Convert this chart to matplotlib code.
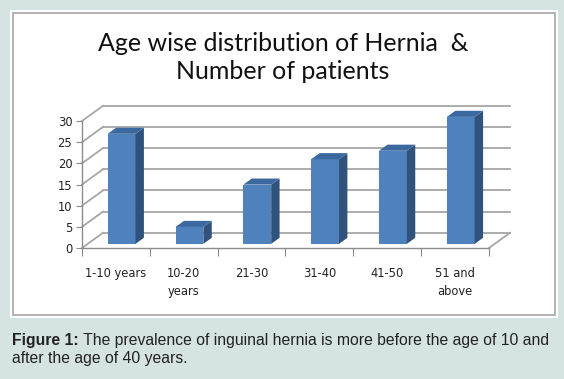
import matplotlib
matplotlib.use("Agg")
import matplotlib.pyplot as plt
from matplotlib.patches import Rectangle, Polygon
from matplotlib.lines import Line2D

# ---- data ----
categories = ["1-10 years", "10-20\nyears", "21-30", "31-40", "41-50", "51 and\nabove"]
patients = [26, 4, 14, 20, 22, 30]
y_ticks = [0, 5, 10, 15, 20, 25, 30]
title = "Age wise distribution of Hernia  &\nNumber of patients"
caption_bold = "Figure 1:"
caption_rest = " The prevalence of inguinal hernia is more before the age of 10 and\nafter the age of 40 years."

W, H = 564, 379
fig = plt.figure(figsize=(W / 100, H / 100), dpi=100)
fig.patch.set_facecolor("#d5e3e3")

def fx(px):
    return px / W

def fy(py):
    return 1 - py / H

# panel
bg = fig.add_axes([0, 0, 1, 1])
bg.set_xlim(0, W)
bg.set_ylim(H, 0)
bg.axis("off")
bg.add_patch(Rectangle((10, 10), 548, 308, facecolor="white", edgecolor="none"))
bg.add_patch(Rectangle((13, 13), 542, 302, facecolor="white", edgecolor="#a6a6a6", lw=1.2))

fig.text(fx(283), fy(57.5), title, ha="center", va="center", fontsize=18,
         family="Lato", color="#111111", linespacing=1.3)

# caption
cap_fs = 11.3
t = fig.text(fx(12), fy(341), caption_bold, ha="left", va="center", fontsize=cap_fs,
             family="Liberation Sans", weight="bold", color="#222222")
fig.canvas.draw()
bb = t.get_window_extent()
fig.text(bb.x1 / W, fy(341), caption_rest.split("\n")[0], ha="left", va="center",
         fontsize=cap_fs, family="Liberation Sans", color="#222222")
fig.text(fx(12), fy(359), caption_rest.split("\n")[1], ha="left", va="center",
         fontsize=cap_fs, family="Liberation Sans", color="#222222")

# main axes (front plane)
ax = fig.add_axes([fx(82), fy(248), fx(489) - fx(82), fy(121) - fy(248)])
n = len(categories)
ax.set_xlim(0, n)
ax.set_ylim(0, 30)
ax.set_facecolor("none")
for s in ["top", "right"]:
    ax.spines[s].set_visible(False)
for s in ["left", "bottom"]:
    ax.spines[s].set_color("#8c8c8c")
    ax.spines[s].set_linewidth(1.0)

DX, DY = 0.31, 3.6   # depth offset in data units
gc = "#a6a6a6"

def L(xs, ys, **kw):
    ax.add_line(Line2D(xs, ys, color=gc, lw=1.3, clip_on=False, zorder=1, **kw))

for v in y_ticks:
    L([0, DX], [v, v + DY])
    L([DX, n + DX], [v + DY, v + DY])
# floor
L([n, n + DX], [0, DY])

ax.set_yticks(y_ticks)
ax.set_yticklabels([str(v) for v in y_ticks])
ax.tick_params(axis="y", length=4, color="#8c8c8c", labelsize=8.3, labelcolor="#222222", pad=3)
ax.set_xticks(range(n + 1))
ax.set_xticklabels([""] * (n + 1))
ax.tick_params(axis="x", length=6, color="#8c8c8c", direction="out")
ax.set_xticks([i + 0.5 for i in range(n)], minor=True)
ax.set_xticklabels(categories, minor=True)
ax.tick_params(axis="x", which="minor", length=0, labelsize=8.3, labelcolor="#222222",
               pad=13.5)
for lab in ax.get_xticklabels(minor=True):
    lab.set_linespacing(1.55)
    lab.set_va("top")

# bars
d0, dd = 0.27, 0.40
bw = 0.41
front_c, side_c, top_c = "#4f81bd", "#31527c", "#3c68a0"
xs = [i + 0.5 + d0 * DX for i in range(n)]
y0 = d0 * DY
ax.bar(xs, patients, width=bw, bottom=y0, color=front_c, zorder=3, clip_on=False)
for x, v in zip(xs, patients):
    xl, xr = x - bw / 2, x + bw / 2
    top = y0 + v
    ax.add_patch(Polygon([(xr, y0), (xr + dd * DX, y0 + dd * DY),
                          (xr + dd * DX, top + dd * DY), (xr, top)],
                         closed=True, facecolor=side_c, edgecolor="none",
                         zorder=3, clip_on=False))
    ax.add_patch(Polygon([(xl, top), (xr, top), (xr + dd * DX, top + dd * DY),
                          (xl + dd * DX, top + dd * DY)],
                         closed=True, facecolor=top_c, edgecolor="none",
                         zorder=3, clip_on=False))

fig.savefig("out.png", dpi=100, facecolor=fig.get_facecolor())
